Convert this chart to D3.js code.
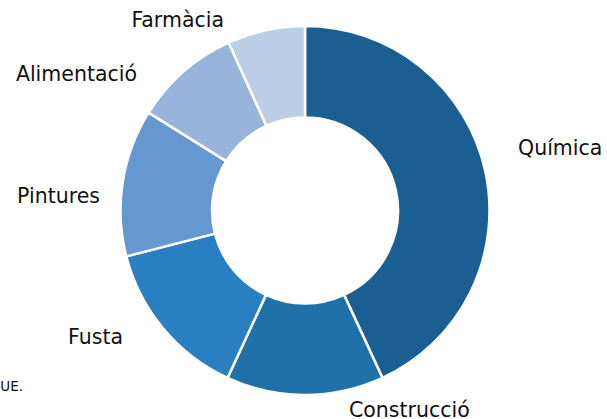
<!DOCTYPE html>
<html>
<head>
    <meta charset="utf-8">
    <title>donut sectors</title>
    <script type="text/javascript" src="https://d3js.org/d3.v7.min.js"></script>
    <style>
        body { margin: 0; background: #fff; }
        text { font-family: "DejaVu Sans", Verdana, sans-serif; fill: #111; }
    </style>
</head>
<body>
<script type="text/javascript">

    // sector shares (%)
    var sectors = ["Química", "Construcció", "Fusta", "Pintures", "Alimentació", "Farmàcia"];
    var shares = [43.1, 13.8, 14.1, 12.9, 9.3, 6.8];
    var colors = ["#1b5f92", "#2070a9", "#2a7fc1", "#6598cf", "#98b4da", "#bccde6"];

    // label placement (outside the ring, pushed to fit like the original)
    var labelPos = [
        {x: 518, y: 155, anchor: "start"},
        {x: 349, y: 417, anchor: "start"},
        {x: 123, y: 344, anchor: "end"},
        {x: 100, y: 203, anchor: "end"},
        {x: 137, y: 81, anchor: "end"},
        {x: 224, y: 27, anchor: "end"}
    ];

    var width = 607
    var height = 419
    var cx = 305, cy = 210.5
    var outerR = 184.5, innerR = 93

    var svg = d3.select("body").append("svg").attr("width", width).attr("height", height);

    var data = sectors.map(function(s, i){ return {name: s, value: shares[i], color: colors[i]} })

    var pie = d3.pie()
        .sort(null)
        .value(function(d){ return d.value })

    var arc = d3.arc()
        .innerRadius(innerR)
        .outerRadius(outerR)

    var g = svg.append("g").attr("transform", "translate(" + cx + "," + cy + ")")

    g.selectAll("path")
        .data(pie(data))
        .enter()
        .append("path")
        .attr("d", arc)
        .attr("fill", function(d){ return d.data.color })
        .attr("stroke", "white")
        .attr("stroke-width", 2.5)
        .attr("stroke-linejoin", "round")

    svg.append("g").selectAll("text")
        .data(data)
        .enter()
        .append("text")
        .attr("x", function(d, i){ return labelPos[i].x })
        .attr("y", function(d, i){ return labelPos[i].y })
        .attr("text-anchor", function(d, i){ return labelPos[i].anchor })
        .attr("font-size", 20.5)
        .text(function(d){ return d.name })

    // source note, clipped at the left edge in the original
    svg.append("text")
        .attr("x", 23)
        .attr("y", 391)
        .attr("text-anchor", "end")
        .attr("font-size", 13.5)
        .attr("fill", "#333")
        .text("Font: Comissió Europea, UE.")

</script>
</body>
</html>
